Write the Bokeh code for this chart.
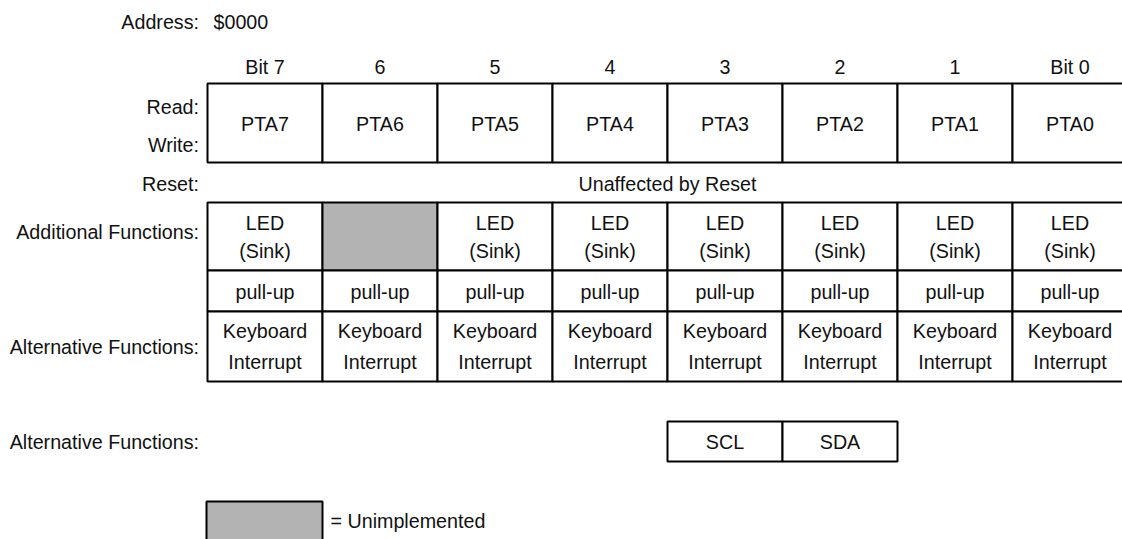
from bokeh.plotting import figure
from bokeh.models import Range1d, ColumnDataSource
from bokeh.embed import file_html
from bokeh.resources import INLINE
from bokeh.core.properties import value

# ---- data ----
address_label = "Address:"
address_value = "$0000"
bit_labels = ["Bit 7", "6", "5", "4", "3", "2", "1", "Bit 0"]
field_names = ["PTA7", "PTA6", "PTA5", "PTA4", "PTA3", "PTA2", "PTA1", "PTA0"]
reset_text = "Unaffected by Reset"
additional_line1 = ["LED", "", "LED", "LED", "LED", "LED", "LED", "LED"]
additional_line2 = ["(Sink)", "", "(Sink)", "(Sink)", "(Sink)", "(Sink)", "(Sink)", "(Sink)"]
unimplemented = [False, True, False, False, False, False, False, False]
pullup = ["pull-up", "pull-up", "pull-up", "pull-up", "pull-up", "pull-up", "pull-up", "pull-up"]
alt_line1 = ["Keyboard"] * 8
alt_line2 = ["Interrupt"] * 8
alt2_bits = [3, 2]
alt2_names = ["SCL", "SDA"]
row_labels = ["Read:", "Write:", "Reset:", "Additional Functions:", "Alternative Functions:", "Alternative Functions:"]
legend_text = "= Unimplemented"

# ---- layout ----
X0 = 207.0
COLW = 115.0
LABEL_X = 198.5
FONT = value("Liberation Sans")
FS = "19.7px"
GRAY = "#b3b3b3"
INK = "#111111"
LW = 2
W, H = 1122, 539

def col_left(bit):
    return X0 + (7 - bit) * COLW

p = figure(width=W, height=H, x_range=Range1d(0, W), y_range=Range1d(H, 0),
           output_backend="svg", toolbar_location=None, min_border=0,
           x_axis_type=None, y_axis_type=None)
p.grid.visible = False
p.outline_line_color = None
p.background_fill_color = "white"
p.border_fill_color = "white"

bits = list(range(7, -1, -1))
lefts = [col_left(b) for b in bits]
rights = [l + COLW for l in lefts]
centers = [l + COLW / 2 for l in lefts]

def text(x, y, t, align="center"):
    src = ColumnDataSource(dict(x=x, y=y, t=t))
    p.text("x", "y", text="t", source=src, text_font=FONT, text_font_size=FS,
           text_align=align, text_baseline="middle", text_color=INK)

def cells(top, bottom, fills, l=None, r=None):
    l = lefts if l is None else l
    r = rights if r is None else r
    src = ColumnDataSource(dict(left=l, right=r, top=[top] * len(l), bottom=[bottom] * len(l), fill=fills))
    p.quad(left="left", right="right", top="top", bottom="bottom", source=src,
           fill_color="fill", line_color="black", line_width=LW)

# header
text([LABEL_X], [21], [address_label], align="right")
text([213], [21], [address_value], align="left")
text(centers, [66] * 8, bit_labels)

# read / write row
cells(83, 162, ["white"] * 8)
text(centers, [123] * 8, field_names)
text([LABEL_X, LABEL_X], [106, 144], row_labels[0:2], align="right")

# reset row
text([LABEL_X], [183], [row_labels[2]], align="right")
text([(lefts[0] + rights[-1]) / 2], [183], [reset_text])

# additional functions
cells(202, 270, [GRAY if u else "white" for u in unimplemented])
text(centers, [222] * 8, additional_line1)
text(centers, [250] * 8, additional_line2)
text([LABEL_X], [231], [row_labels[3]], align="right")

# pull-up row
cells(270, 311, ["white"] * 8)
text(centers, [291] * 8, pullup)

# alternative functions
cells(311, 381, ["white"] * 8)
text(centers, [330] * 8, alt_line1)
text(centers, [361] * 8, alt_line2)
text([LABEL_X], [346], [row_labels[4]], align="right")

# second alternative functions
a2l = [col_left(b) for b in alt2_bits]
a2r = [l + COLW for l in a2l]
cells(421, 461, ["white"] * 2, a2l, a2r)
text([l + COLW / 2 for l in a2l], [441] * 2, alt2_names)
text([LABEL_X], [441], [row_labels[5]], align="right")

# legend
cells(501, 548, [GRAY], [X0 - 1], [X0 + COLW])
text([X0 + COLW + 8], [520], [legend_text], align="left")

open("out.html", "w").write(file_html(p, INLINE))
